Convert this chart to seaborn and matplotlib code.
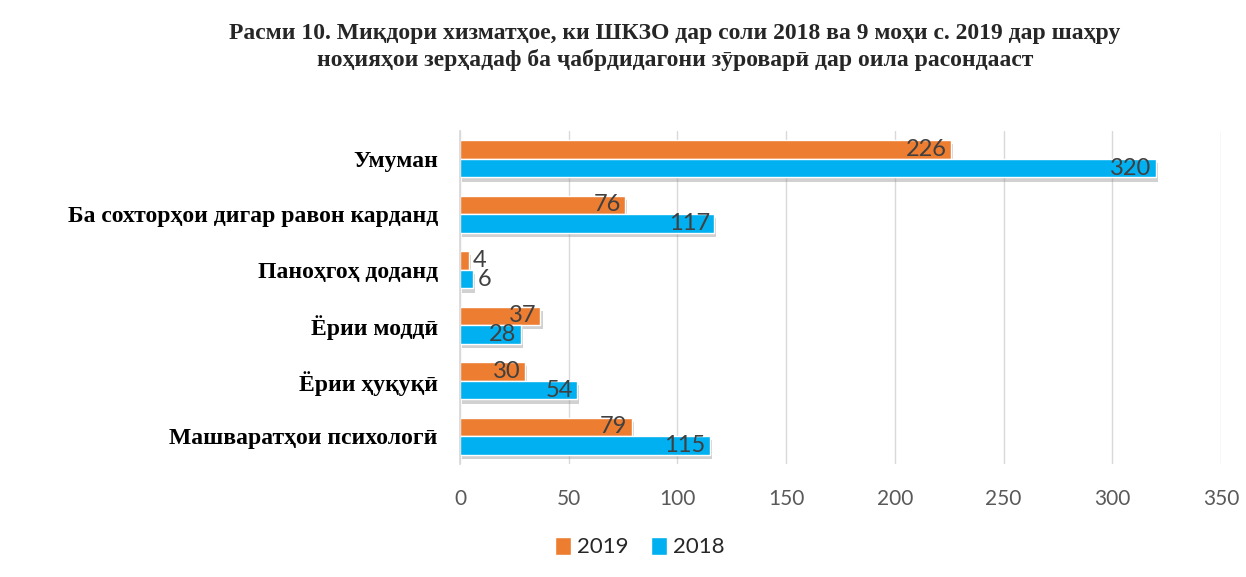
import pandas as pd
import matplotlib.pyplot as plt
import matplotlib.patheffects as pe
import seaborn as sns

# data
categories = ['Умуман', 'Ба сохторҳои дигар равон карданд', 'Паноҳгоҳ доданд',
              'Ёрии моддӣ', 'Ёрии ҳуқуқӣ', 'Машваратҳои психологӣ']
values_2019 = [226, 76, 4, 37, 30, 79]
values_2018 = [320, 117, 6, 28, 54, 115]
years = ['2019', '2018']
colors = {'2019': '#ED7D31', '2018': '#00B0F0'}

df = pd.DataFrame({
    'cat': categories * 2,
    'year': ['2019'] * len(categories) + ['2018'] * len(categories),
    'value': values_2019 + values_2018,
})

sns.set_theme(style='white')
num_font = ['Lato', 'DejaVu Sans']
serif_font = ['Liberation Serif', 'DejaVu Serif']

fig = plt.figure(figsize=(12.46, 5.77), dpi=100)
ax = fig.add_axes([460 / 1246, 1 - 464 / 577, (1221 - 460) / 1246, (464 - 131) / 577])

sns.barplot(data=df, y='cat', x='value', hue='year', hue_order=years,
            order=categories, palette=colors, orient='h', width=0.67,
            gap=0, saturation=1, ax=ax, legend=True)

shadow = [pe.SimplePatchShadow(offset=(1.5, -3), shadow_rgbFace='#8c8c8c', alpha=0.4),
          pe.Normal()]
for bar in ax.patches:
    if bar.get_width() > 0:
        bar.set_path_effects(shadow)

# data labels (inside end, outside for tiny bars)
for cont in ax.containers:
    for bar in cont:
        w = bar.get_width()
        yc = bar.get_y() + bar.get_height() / 2
        if w < 15:
            ax.text(w + 2, yc, f'{w:.0f}', va='center', ha='left',
                    fontsize=17, color='#404040', family=num_font)
        else:
            ax.text(w - 2, yc, f'{w:.0f}', va='center', ha='right',
                    fontsize=17, color='#404040', family=num_font)

ax.set_xlim(0, 350)
ax.set_xticks(range(0, 351, 50))
ax.grid(axis='x', color='#d9d9d9', linewidth=1)
ax.set_axisbelow(True)
for s in ['top', 'right', 'bottom']:
    ax.spines[s].set_visible(False)
ax.spines['left'].set_color('#d9d9d9')
ax.set_xlabel('')
ax.set_ylabel('')
ax.tick_params(axis='x', length=0, pad=18, labelsize=15, labelcolor='#595959')
ax.tick_params(axis='y', length=0, pad=16)
for lbl in ax.get_xticklabels():
    lbl.set_family(num_font)
for lbl in ax.get_yticklabels():
    lbl.set_family(serif_font)
    lbl.set_fontweight('bold')
    lbl.set_fontsize(17)
    lbl.set_color('black')

ax.legend(loc='center', bbox_to_anchor=(640 / 1246, 1 - 547 / 577),
          bbox_transform=fig.transFigure, ncol=2, frameon=False,
          handlelength=0.7, handleheight=0.9, handletextpad=0.3, columnspacing=1.0,
          prop={'family': num_font, 'size': 16})

fig.text(675 / 1246, 1 - 47 / 577,
         'Расми 10. Миқдори хизматҳое, ки ШКЗО дар соли 2018 ва 9 моҳи с. 2019 дар шаҳру\n'
         'ноҳияҳои зерҳадаф ба ҷабрдидагони зӯроварӣ дар оила расондааст',
         ha='center', va='center', fontsize=17, fontweight='bold',
         family=serif_font, linespacing=1.32)

fig.savefig('out.png', dpi=100)
